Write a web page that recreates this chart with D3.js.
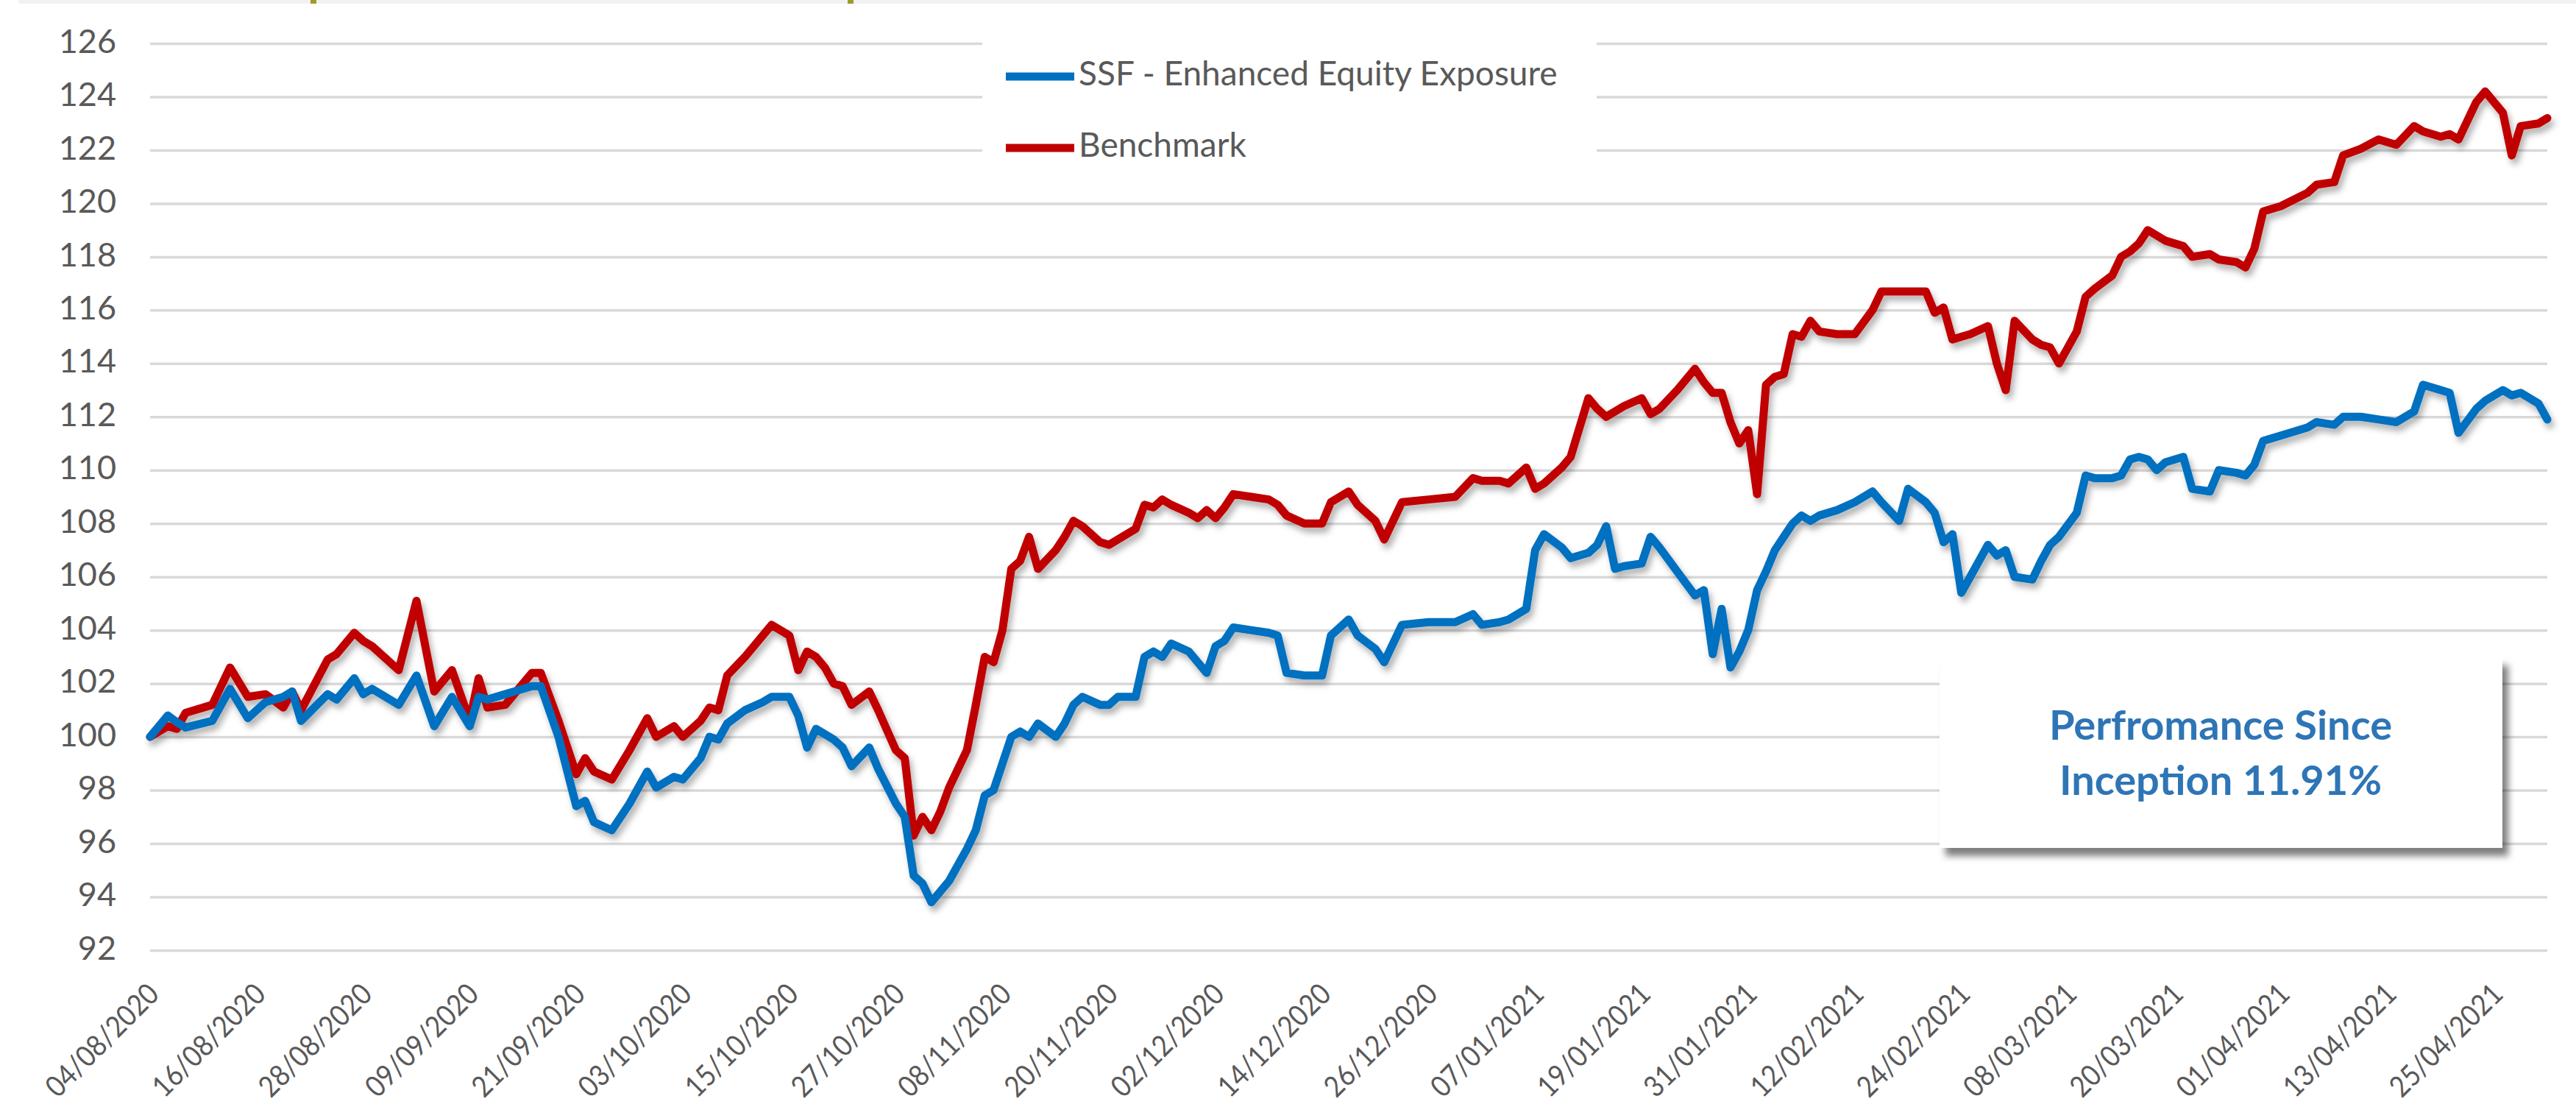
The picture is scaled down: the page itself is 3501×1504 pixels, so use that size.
<!DOCTYPE html>
<html>
<head>
<meta charset="utf-8">
<script src="https://cdn.jsdelivr.net/npm/d3@7"></script>
<style>
  body { margin: 0; background: #fff; }
  text { font-family: Lato, "Open Sans", sans-serif; }
</style>
</head>
<body>
<svg id="chart"></svg>
<script>
// inception date, everything else is counted in days from it
const startDate = "04/08/2020";

const dayOffsets = [0, 2, 3, 4, 7, 9, 11, 13, 15, 16, 17, 20, 21, 23, 24, 25, 28, 30, 32, 34,
  36, 37, 38, 40, 41, 43, 44, 46, 48, 49, 50, 52, 54, 56, 57, 59, 60, 62, 63, 64,
  65, 67, 69, 70, 72, 73, 74, 75, 76, 77, 78, 79, 81, 82, 84, 85, 86, 87, 88, 89,
  90, 92, 93, 94, 95, 96, 97, 98, 99, 100, 102, 103, 104, 105, 107, 108, 109, 111, 112, 113,
  114, 115, 117, 118, 119, 120, 121, 122, 124, 126, 127, 128, 130, 132, 133, 135, 136, 138, 139, 141,
  144, 147, 149, 150, 152, 153, 155, 156, 157, 159, 160, 162, 163, 164, 165, 166, 168, 169, 170, 172,
  174, 175, 176, 177, 178, 179, 180, 181, 182, 183, 184, 185, 186, 187, 188, 190, 192, 194, 195, 197,
  198, 200, 201, 202, 203, 204, 205, 207, 208, 209, 210, 212, 213, 214, 215, 217, 218, 219, 221, 222,
  223, 224, 225, 226, 227, 229, 230, 232, 233, 235, 236, 237, 238, 240, 243, 244, 246, 247, 249, 251,
  253, 255, 256, 258, 259, 260, 262, 263, 265, 266, 267, 269, 270];

const ssfValues = [100.0, 100.8, 100.55, 100.35, 100.6, 101.8, 100.7, 101.3, 101.5, 101.7, 100.6, 101.6, 101.4, 102.2, 101.6, 101.8, 101.2, 102.3, 100.4, 101.5,
  100.4, 101.5, 101.4, 101.6, 101.7, 101.9, 101.9, 100.0, 97.4, 97.6, 96.8, 96.5, 97.5, 98.7, 98.1, 98.5, 98.4, 99.2, 100.0, 99.9,
  100.5, 101.0, 101.3, 101.5, 101.5, 100.8, 99.6, 100.3, 100.1, 99.9, 99.6, 98.9, 99.6, 98.8, 97.5, 97.0, 94.8, 94.5, 93.8, 94.2,
  94.6, 95.8, 96.5, 97.8, 98.0, 99.0, 100.0, 100.2, 100.0, 100.5, 100.0, 100.5, 101.2, 101.5, 101.2, 101.2, 101.5, 101.5, 103.0, 103.2,
  103.0, 103.5, 103.2, 102.8, 102.4, 103.4, 103.6, 104.1, 104.0, 103.9, 103.8, 102.4, 102.3, 102.3, 103.8, 104.4, 103.8, 103.3, 102.8, 104.2,
  104.3, 104.3, 104.6, 104.2, 104.3, 104.4, 104.8, 107.0, 107.6, 107.1, 106.7, 106.9, 107.2, 107.9, 106.3, 106.4, 106.5, 107.5, 107.1, 106.2,
  105.3, 105.5, 103.1, 104.8, 102.6, 103.2, 104.0, 105.5, 106.2, 107.0, 107.5, 108.0, 108.3, 108.1, 108.3, 108.5, 108.8, 109.2, 108.8, 108.1,
  109.3, 108.8, 108.4, 107.3, 107.6, 105.4, 106.0, 107.2, 106.8, 107.0, 106.0, 105.9, 106.6, 107.2, 107.5, 108.4, 109.8, 109.7, 109.7, 109.8,
  110.4, 110.5, 110.4, 110.0, 110.3, 110.5, 109.3, 109.2, 110.0, 109.9, 109.8, 110.2, 111.1, 111.3, 111.6, 111.8, 111.7, 112.0, 112.0, 111.9,
  111.8, 112.2, 113.2, 113.0, 112.9, 111.4, 112.3, 112.6, 113.0, 112.8, 112.9, 112.5, 111.9];

const benchmarkValues = [100.0, 100.4, 100.3, 100.9, 101.2, 102.6, 101.5, 101.6, 101.1, 101.7, 101.0, 102.9, 103.1, 103.9, 103.6, 103.4, 102.5, 105.1, 101.7, 102.5,
  100.6, 102.2, 101.1, 101.2, 101.6, 102.4, 102.4, 100.6, 98.6, 99.2, 98.7, 98.4, 99.5, 100.7, 100.0, 100.4, 100.0, 100.6, 101.1, 101.0,
  102.3, 103.0, 103.8, 104.2, 103.8, 102.5, 103.2, 103.0, 102.6, 102.0, 101.9, 101.2, 101.7, 101.0, 99.5, 99.2, 96.3, 97.0, 96.5, 97.2,
  98.1, 99.5, 101.2, 103.0, 102.8, 104.0, 106.3, 106.6, 107.5, 106.3, 107.0, 107.5, 108.1, 107.9, 107.3, 107.2, 107.4, 107.8, 108.7, 108.6,
  108.9, 108.7, 108.4, 108.2, 108.5, 108.2, 108.6, 109.1, 109.0, 108.9, 108.7, 108.3, 108.0, 108.0, 108.8, 109.2, 108.7, 108.1, 107.4, 108.8,
  108.9, 109.0, 109.7, 109.6, 109.6, 109.5, 110.1, 109.3, 109.5, 110.1, 110.5, 112.7, 112.3, 112.0, 112.2, 112.4, 112.7, 112.1, 112.3, 113.0,
  113.8, 113.3, 112.9, 112.9, 111.8, 111.0, 111.5, 109.1, 113.2, 113.5, 113.6, 115.1, 115.0, 115.6, 115.2, 115.1, 115.1, 116.0, 116.7, 116.7,
  116.7, 116.7, 115.9, 116.1, 114.9, 115.0, 115.1, 115.4, 114.0, 113.0, 115.6, 114.9, 114.7, 114.6, 114.0, 115.2, 116.5, 116.8, 117.3, 118.0,
  118.2, 118.5, 119.0, 118.8, 118.6, 118.4, 118.0, 118.1, 117.9, 117.8, 117.6, 118.3, 119.7, 119.9, 120.4, 120.7, 120.8, 121.8, 122.05, 122.4,
  122.2, 122.9, 122.7, 122.5, 122.6, 122.4, 123.8, 124.2, 123.4, 121.8, 122.9, 123.0, 123.2];

const tickLabels = ["04/08/2020", "16/08/2020", "28/08/2020", "09/09/2020", "21/09/2020", "03/10/2020",
  "15/10/2020", "27/10/2020", "08/11/2020", "20/11/2020", "02/12/2020", "14/12/2020", "26/12/2020",
  "07/01/2021", "19/01/2021", "31/01/2021", "12/02/2021", "24/02/2021", "08/03/2021", "20/03/2021",
  "01/04/2021", "13/04/2021", "25/04/2021"];

const yTicks = [92, 94, 96, 98, 100, 102, 104, 106, 108, 110, 112, 114, 116, 118, 120, 122, 124, 126];

const seriesNames = ["SSF - Enhanced Equity Exposure", "Benchmark"];
const seriesColors = ["#0070c0", "#c00000"];
const noteLines = ["Perfromance Since", "Inception 11.91%"];

const width = 3501, height = 1504;
const plotLeft = 204, plotRight = 3462, plotTop = 59, plotBottom = 1291;

const parseDate = d3.utcParse("%d/%m/%Y");
const start = parseDate(startDate);
const dates = dayOffsets.map(d => d3.utcDay.offset(start, d));
const tickDates = tickLabels.map(parseDate);

const svg = d3.select("#chart")
  .attr("width", width)
  .attr("height", height);

svg.append("rect").attr("width", width).attr("height", height).attr("fill", "#fff");

const defs = svg.append("defs");
defs.append("filter").attr("id", "lineShadow")
  .attr("x", "-5%").attr("y", "-5%").attr("width", "110%").attr("height", "120%")
  .append("feDropShadow")
  .attr("dx", 4).attr("dy", 7).attr("stdDeviation", 4)
  .attr("flood-color", "#000").attr("flood-opacity", 0.3);
defs.append("filter").attr("id", "boxShadow")
  .attr("x", "-10%").attr("y", "-10%").attr("width", "125%").attr("height", "130%")
  .append("feDropShadow")
  .attr("dx", 8).attr("dy", 11).attr("stdDeviation", 5)
  .attr("flood-color", "#000").attr("flood-opacity", 0.5);

// strip left over from the cropped title above the chart
svg.append("rect").attr("x", 25).attr("y", 0).attr("width", width - 25).attr("height", 5).attr("fill", "#f2f2f2");
svg.selectAll(".title-bit")
  .data([422, 1152])
  .enter().append("rect")
  .attr("class", "title-bit")
  .attr("x", d => d).attr("y", 0).attr("width", 8).attr("height", 5)
  .attr("fill", "#9c9c2c");

const x = d3.scaleUtc()
  .domain([start, d3.max(dates)])
  .range([plotLeft, plotRight]);

const y = d3.scaleLinear()
  .domain([92, 126])
  .range([plotBottom, plotTop]);

// y axis + gridlines
svg.append("g")
  .attr("transform", `translate(${plotLeft},0)`)
  .call(d3.axisLeft(y).tickValues(yTicks).tickSize(-(plotRight - plotLeft)).tickPadding(46).tickFormat(d3.format("d")))
  .call(g => g.select(".domain").remove())
  .call(g => g.selectAll(".tick line").attr("stroke", "#d9d9d9").attr("stroke-width", 3.5))
  .call(g => g.selectAll(".tick text")
    .attr("fill", "#595959")
    .attr("font-size", 45)
    .attr("font-family", "Lato")
    .attr("dy", "0.27em"));

// x axis, labels turned 45 degrees
svg.append("g")
  .attr("transform", `translate(0,${plotBottom})`)
  .call(d3.axisBottom(x).tickValues(tickDates).tickSize(0).tickFormat(d3.utcFormat("%d/%m/%Y")))
  .call(g => g.select(".domain").remove())
  .call(g => g.selectAll(".tick text")
    .attr("y", 0)
    .attr("dy", 0)
    .attr("text-anchor", "end")
    .attr("transform", "translate(14,62) rotate(-45)")
    .attr("fill", "#595959")
    .attr("font-size", 40)
    .attr("font-family", "Lato")
    .attr("textLength", 198)
    .attr("lengthAdjust", "spacingAndGlyphs"));

const line = d3.line()
  .x((d, i) => x(dates[i]))
  .y(d => y(d));

const lines = svg.append("g").attr("filter", "url(#lineShadow)");

lines.append("path")
  .datum(benchmarkValues)
  .attr("d", line)
  .attr("fill", "none")
  .attr("stroke", seriesColors[1])
  .attr("stroke-width", 11)
  .attr("stroke-linejoin", "round")
  .attr("stroke-linecap", "round");

lines.append("path")
  .datum(ssfValues)
  .attr("d", line)
  .attr("fill", "none")
  .attr("stroke", seriesColors[0])
  .attr("stroke-width", 11)
  .attr("stroke-linejoin", "round")
  .attr("stroke-linecap", "round");

// legend sits on a white box over the gridlines
const legend = svg.append("g");
legend.append("rect")
  .attr("x", 1335).attr("y", 40)
  .attr("width", 835).attr("height", 205)
  .attr("fill", "#fff");

const items = legend.selectAll(".item")
  .data(seriesNames)
  .enter().append("g")
  .attr("class", "item")
  .attr("transform", (d, i) => `translate(1367,${104 + i * 97})`);

items.append("line")
  .attr("x1", 0).attr("x2", 93)
  .attr("stroke", (d, i) => seriesColors[i])
  .attr("stroke-width", 11);

items.append("text")
  .attr("x", 99)
  .attr("y", 12)
  .attr("fill", "#595959")
  .attr("font-size", 46)
  .text(d => d);

// performance note
const note = svg.append("g");
note.append("rect")
  .attr("x", 2636).attr("y", 893)
  .attr("width", 765).attr("height", 259)
  .attr("fill", "#fff")
  .attr("filter", "url(#boxShadow)");

note.selectAll(".note-line")
  .data(noteLines)
  .enter().append("text")
  .attr("class", "note-line")
  .attr("x", 3018)
  .attr("y", (d, i) => 1005 + i * 75)
  .attr("text-anchor", "middle")
  .attr("font-size", 56)
  .attr("font-weight", "bold")
  .attr("fill", "#2e75b6")
  .text(d => d);
</script>
</body>
</html>
